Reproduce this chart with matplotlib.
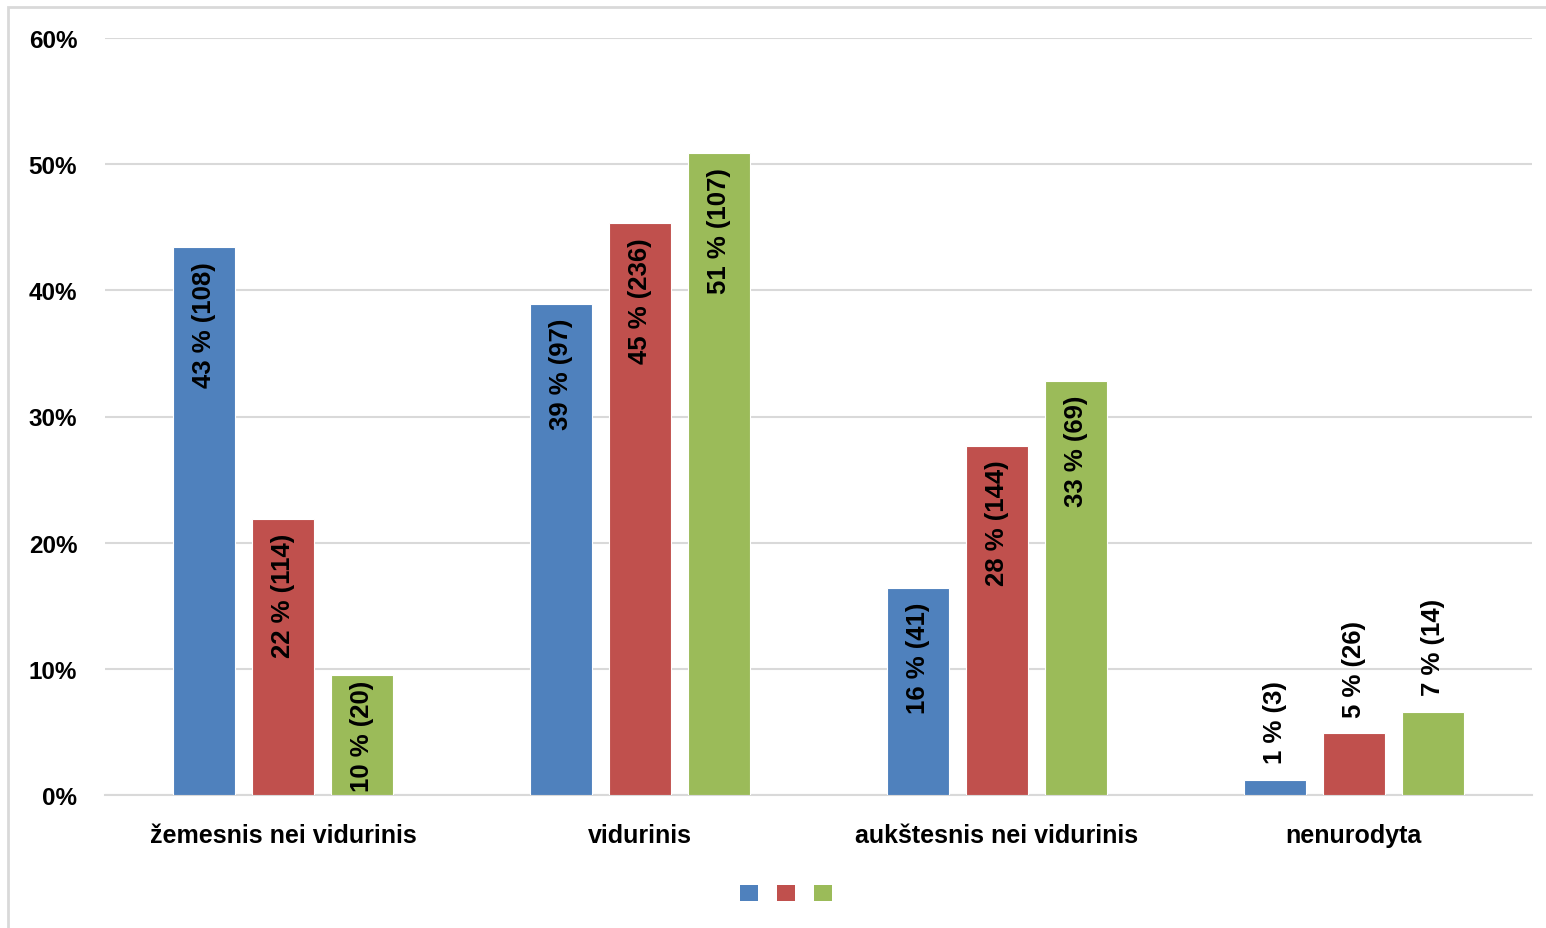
import matplotlib
matplotlib.use("Agg")
import matplotlib.pyplot as plt
from matplotlib.patches import Rectangle, Patch
import numpy as np

categories = ["žemesnis nei vidurinis", "vidurinis", "aukštesnis nei vidurinis", "nenurodyta"]
series1 = [43.4, 38.9, 16.4, 1.2]
series2 = [21.9, 45.3, 27.7, 4.9]
series3 = [9.5, 50.9, 32.8, 6.6]
labels1 = ["43 % (108)", "39 % (97)", "16 % (41)", "1 % (3)"]
labels2 = ["22 % (114)", "45 % (236)", "28 % (144)", "5 % (26)"]
labels3 = ["10 % (20)", "51 % (107)", "33 % (69)", "7 % (14)"]
yticks = [0, 10, 20, 30, 40, 50, 60]
ytick_labels = ["0%", "10%", "20%", "30%", "40%", "50%", "60%"]
outside_group = [False, False, False, True]

colors = ["#4F81BD", "#C0504D", "#9BBB59"]
font = ["Liberation Sans", "DejaVu Sans"]

fig = plt.figure(figsize=(15.46, 9.29), dpi=100)
W, H = 1546, 929
ax = fig.add_axes([105 / W, 1 - 796 / H, (1532 - 105) / W, (796 - 39) / H])

# chart border
fig.patches.append(Rectangle((8 / W, -0.1), 1.2, 1 - 8 / H + 0.1, transform=fig.transFigure,
                             fill=False, edgecolor="#d9d9d9", linewidth=2, zorder=0))

ax.set_xlim(-0.5, len(categories) - 0.5)
ax.set_ylim(0, 60)

x = np.arange(len(categories))
bw = 62 / 356.75
step = 79 / 356.75
all_series = [series1, series2, series3]
all_labels = [labels1, labels2, labels3]
inside_texts = []
for i, (vals, labs) in enumerate(zip(all_series, all_labels)):
    pos = x + (i - 1) * step
    bars = ax.bar(pos, vals, width=bw, color=colors[i], edgecolor="white", linewidth=0.8, zorder=3)
    for b, v, lab, out in zip(bars, vals, labs, outside_group):
        cx = b.get_x() + b.get_width() / 2
        if out:
            ax.annotate(lab, (cx, v), xytext=(0, 12), textcoords="offset points",
                        rotation=90, ha="center", va="bottom", fontsize=18.5,
                        fontweight="bold", family=font, color="black", zorder=4)
        else:
            t = ax.annotate(lab, (cx, v), xytext=(0, -10), textcoords="offset points",
                            rotation=90, ha="center", va="top", fontsize=18.5,
                            fontweight="bold", family=font, color="black", zorder=4)
            inside_texts.append((t, cx))

ax.set_yticks(yticks)
ax.set_yticklabels(ytick_labels, fontsize=17.5, fontweight="bold", family=font)
ax.set_xticks(x)
ax.set_xticklabels(categories, fontsize=18, fontweight="bold", family=font)
ax.tick_params(axis="both", length=0)
ax.tick_params(axis="y", pad=20)
ax.tick_params(axis="x", pad=20)
for lab in ax.get_yticklabels():
    lab.set_horizontalalignment("right")
ax.grid(axis="y", color="#d9d9d9", linewidth=1.5, zorder=0)
for s in ["top", "right", "left"]:
    ax.spines[s].set_visible(False)
ax.spines["bottom"].set_color("#d9d9d9")
ax.spines["bottom"].set_linewidth(1.5)

# keep inside labels within the bar (shift up if too long, like Excel)
renderer = fig.canvas.get_renderer()
base_px = ax.transData.transform((0, 0))[1]
for t, cx in inside_texts:
    bb = t.get_window_extent(renderer)
    if bb.y0 < base_px + 5:
        t.set_va("bottom")
        t.xy = (cx, 0)
        t.set_position((0, 3))

handles = [Patch(facecolor=c, edgecolor="none") for c in colors]
fig.legend(handles, ["", "", ""], ncol=3, loc="center", bbox_to_anchor=(788 / W, 1 - 895 / H),
           frameon=False, handlelength=0.9, handleheight=0.9, columnspacing=0.8, handletextpad=0.2,
           fontsize=14)

fig.savefig("out.png", dpi=100)
